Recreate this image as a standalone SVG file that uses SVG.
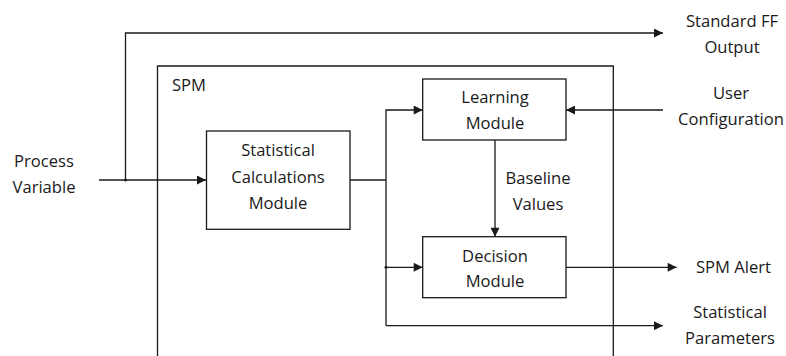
<svg xmlns="http://www.w3.org/2000/svg" width="786" height="356" viewBox="0 0 786 356">
<defs>
<marker id="arr" viewBox="0 0 10 10" refX="10" refY="5" markerWidth="11" markerHeight="9" markerUnits="userSpaceOnUse" orient="auto">
<path d="M0,0 L10,5 L0,10 z" fill="#1a1a1a"/>
</marker>
</defs>
<style>
.box{fill:#fff;stroke:#1a1a1a;stroke-width:1.3}
.frame{fill:none;stroke:#1a1a1a;stroke-width:1.3}
.ln{fill:none;stroke:#1a1a1a;stroke-width:1.3}
.t{font-family:"Open Sans","Noto Sans",sans-serif;font-size:16.6px;fill:#1a1a1a;text-anchor:middle}
.dot{fill:#1a1a1a}
</style>
<rect width="786" height="356" fill="#fff"/>
<g id="spm">
<path class="frame" d="M157.5,360 V66 H613.3 V360"/>
<text class="t" x="172" y="91" style="text-anchor:start">SPM</text>
</g>
<g id="connectors">
<path class="ln" d="M99,180 H206" marker-end="url(#arr)"/>
<path class="ln" d="M125.5,180 V33 H663" marker-end="url(#arr)"/>
<path class="ln" d="M350,180 H386"/>
<path class="ln" d="M386,325.7 V110 H422.7" marker-end="url(#arr)"/>
<path class="ln" d="M386,267.3 H422.7" marker-end="url(#arr)"/>
<path class="ln" d="M386,325.7 H663" marker-end="url(#arr)"/>
<path class="ln" d="M663,110 H566" marker-end="url(#arr)"/>
<path class="ln" d="M495,140 V236.7" marker-end="url(#arr)"/>
<path class="ln" d="M566,267.3 H676.7" marker-end="url(#arr)"/>
<circle class="dot" cx="125.5" cy="180" r="1.5"/>
<circle class="dot" cx="386" cy="267.3" r="1.5"/>
</g>
<g id="stat-calc">
<rect class="box" x="206.5" y="131" width="143.5" height="98.3"/>
<text class="t" x="278" y="156">Statistical</text>
<text class="t" x="278" y="183">Calculations</text>
<text class="t" x="278" y="209">Module</text>
</g>
<g id="learning">
<rect class="box" x="422.7" y="79" width="143.3" height="61"/>
<text class="t" x="495" y="103">Learning</text>
<text class="t" x="495" y="129">Module</text>
</g>
<g id="decision">
<rect class="box" x="422.7" y="236.7" width="143.3" height="61"/>
<text class="t" x="495" y="262">Decision</text>
<text class="t" x="495" y="287">Module</text>
</g>
<g id="labels">
<text class="t" x="44" y="167">Process</text>
<text class="t" x="44" y="193">Variable</text>
<text class="t" x="538" y="184">Baseline</text>
<text class="t" x="538" y="210">Values</text>
<text class="t" x="732" y="27">Standard FF</text>
<text class="t" x="732" y="53">Output</text>
<text class="t" x="731" y="99">User</text>
<text class="t" x="731" y="125">Configuration</text>
<text class="t" x="696" y="273" style="text-anchor:start">SPM Alert</text>
<text class="t" x="730" y="318">Statistical</text>
<text class="t" x="730" y="344">Parameters</text>
</g>
</svg>
